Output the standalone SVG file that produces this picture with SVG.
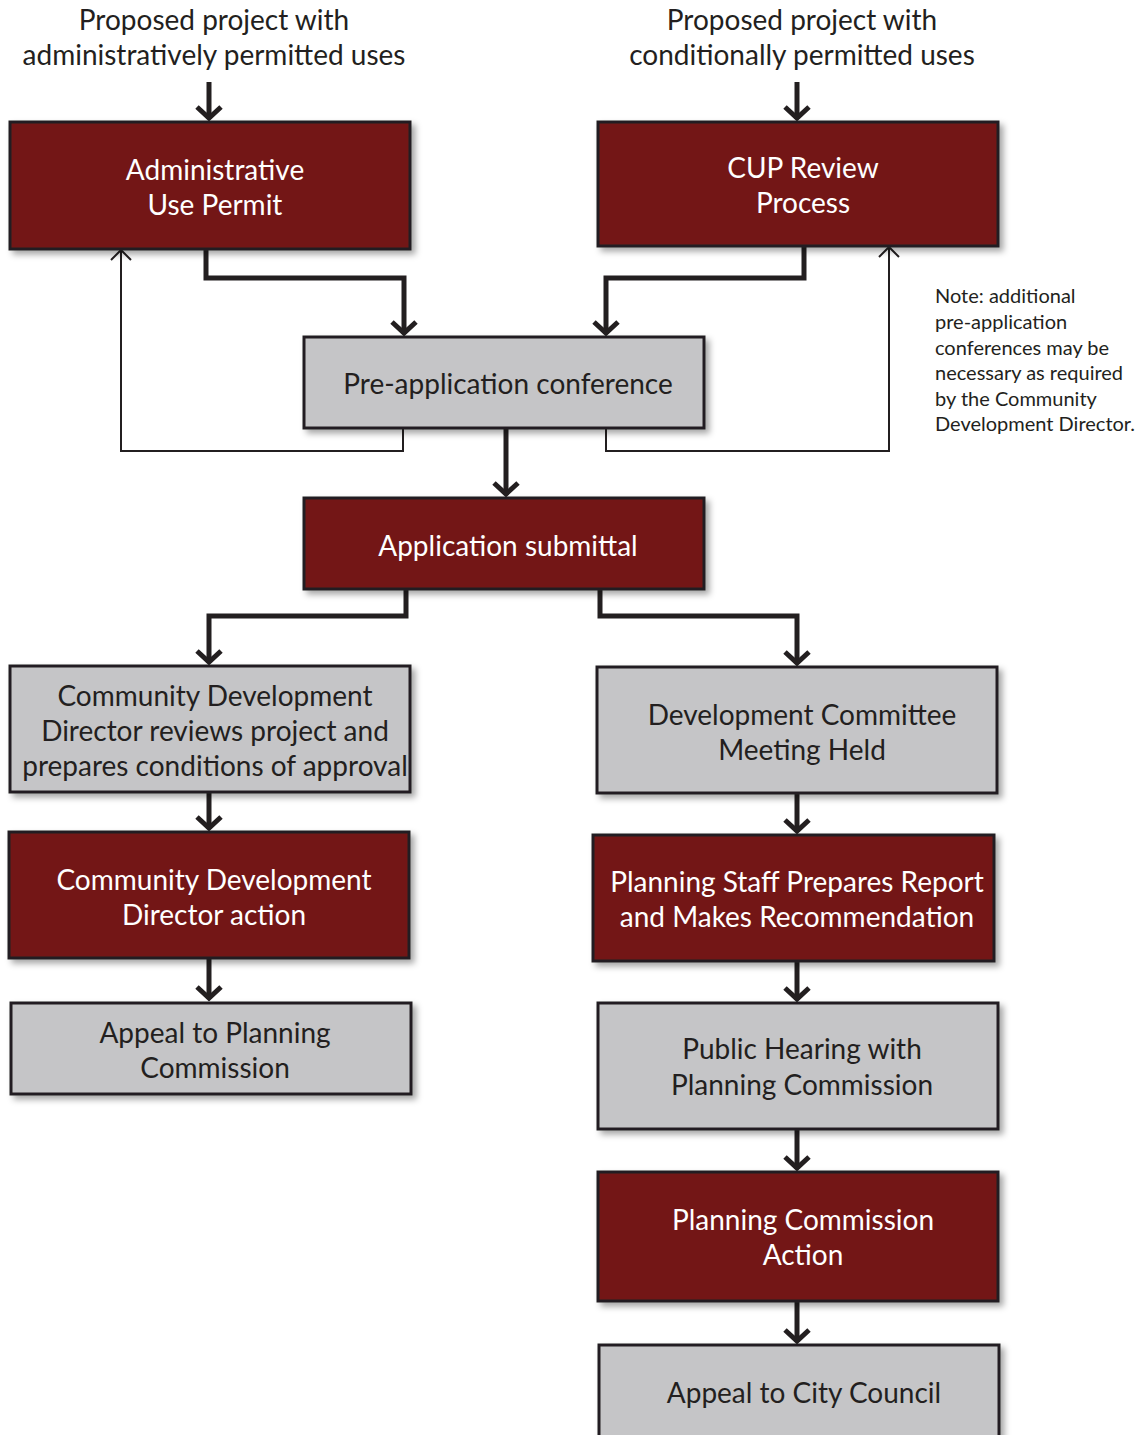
<svg xmlns="http://www.w3.org/2000/svg" width="1143" height="1435" viewBox="0 0 1143 1435">
<defs>
<filter id="sh" x="-5%" y="-10%" width="115%" height="130%">
<feDropShadow dx="4" dy="4" stdDeviation="3" flood-color="#000" flood-opacity="0.35"/>
</filter>
<marker id="ah" viewBox="0 0 20 30" refX="16" refY="15" markerWidth="20" markerHeight="30" markerUnits="userSpaceOnUse" orient="auto">
<path d="M4,3 L15,15 L4,27" fill="none" stroke="#231f20" stroke-width="5"/>
</marker>
<marker id="ahs" viewBox="0 0 24 14" refX="12" refY="2" markerWidth="24" markerHeight="14" markerUnits="userSpaceOnUse" orient="0">
<path d="M2,12 L12,2 L22,12" fill="none" stroke="#231f20" stroke-width="2"/>
</marker>
</defs>
<style>
.red{fill:#731615;stroke:#231f20;stroke-width:3;filter:url(#sh)}
.gray{fill:#c5c5c7;stroke:#231f20;stroke-width:3;filter:url(#sh)}
text{font-family:Lato,"Open Sans",sans-serif;font-size:28px;text-anchor:middle}
.w{fill:#ffffff}
.d{fill:#231f20}
.note{font-size:20px;text-anchor:start;fill:#231f20}
.thick{fill:none;stroke:#231f20;stroke-width:5;marker-end:url(#ah)}
.thin{fill:none;stroke:#231f20;stroke-width:2;marker-end:url(#ahs)}
</style>
<rect width="1143" height="1435" fill="#fff"/>
<g id="labels">
<text class="d" x="214" y="30">Proposed project with</text>
<text class="d" x="214" y="65">administratively permitted uses</text>
<text class="d" x="802" y="30">Proposed project with</text>
<text class="d" x="802" y="65">conditionally permitted uses</text>
<text class="note" x="935" y="303">Note: additional</text>
<text class="note" x="935" y="329">pre-application</text>
<text class="note" x="935" y="355">conferences may be</text>
<text class="note" x="935" y="380">necessary as required</text>
<text class="note" x="935" y="406">by the Community</text>
<text class="note" x="935" y="431">Development Director.</text>
</g>
<g id="connectors">
<path class="thick" d="M209,82 V119"/>
<path class="thick" d="M797,82 V119"/>
<path class="thick" d="M206,249 V278 H404 V334"/>
<path class="thick" d="M804,246 V278 H606 V334"/>
<path class="thick" d="M506,428 V495"/>
<path class="thick" d="M406,589 V616 H209 V663"/>
<path class="thick" d="M600,589 V616 H797 V664"/>
<path class="thick" d="M209,792 V829"/>
<path class="thick" d="M209,958 V999"/>
<path class="thick" d="M797,793 V832"/>
<path class="thick" d="M797,961 V1000"/>
<path class="thick" d="M797,1129 V1169"/>
<path class="thick" d="M797,1301 V1342"/>
<path class="thin" d="M403,428 V451 H121 V250"/>
<path class="thin" d="M606,428 V451 H889 V247"/>
</g>
<g id="n-aup"><rect class="red" x="10" y="122" width="400" height="127"/><text class="w" x="215" y="180">Administrative</text><text class="w" x="215" y="215">Use Permit</text></g>
<g id="n-cup"><rect class="red" x="598" y="122" width="400" height="124"/><text class="w" x="803" y="178">CUP Review</text><text class="w" x="803" y="213">Process</text></g>
<g id="n-pre"><rect class="gray" x="304" y="337" width="400" height="91"/><text class="d" x="508" y="394">Pre-application conference</text></g>
<g id="n-app"><rect class="red" x="304" y="498" width="400" height="91"/><text class="w" x="508" y="556">Application submittal</text></g>
<g id="n-cddr"><rect class="gray" x="10" y="666" width="400" height="126"/><text class="d" x="215" y="706">Community Development</text><text class="d" x="215" y="741">Director reviews project and</text><text class="d" x="215" y="776">prepares conditions of approval</text></g>
<g id="n-dcm"><rect class="gray" x="597" y="667" width="400" height="126"/><text class="d" x="802" y="725">Development Committee</text><text class="d" x="802" y="760">Meeting Held</text></g>
<g id="n-cdda"><rect class="red" x="9" y="832" width="400" height="126"/><text class="w" x="214" y="890">Community Development</text><text class="w" x="214" y="925">Director action</text></g>
<g id="n-psr"><rect class="red" x="593" y="835" width="401" height="126"/><text class="w" x="797" y="892">Planning Staff Prepares Report</text><text class="w" x="797" y="927">and Makes Recommendation</text></g>
<g id="n-appc"><rect class="gray" x="11" y="1003" width="400" height="91"/><text class="d" x="215" y="1043">Appeal to Planning</text><text class="d" x="215" y="1078">Commission</text></g>
<g id="n-ph"><rect class="gray" x="598" y="1003" width="400" height="126"/><text class="d" x="802" y="1059">Public Hearing with</text><text class="d" x="802" y="1095">Planning Commission</text></g>
<g id="n-pca"><rect class="red" x="598" y="1172" width="400" height="129"/><text class="w" x="803" y="1230">Planning Commission</text><text class="w" x="803" y="1265">Action</text></g>
<g id="n-acc"><rect class="gray" x="599" y="1345" width="400" height="100"/><text class="d" x="804" y="1403">Appeal to City Council</text></g>
</svg>
